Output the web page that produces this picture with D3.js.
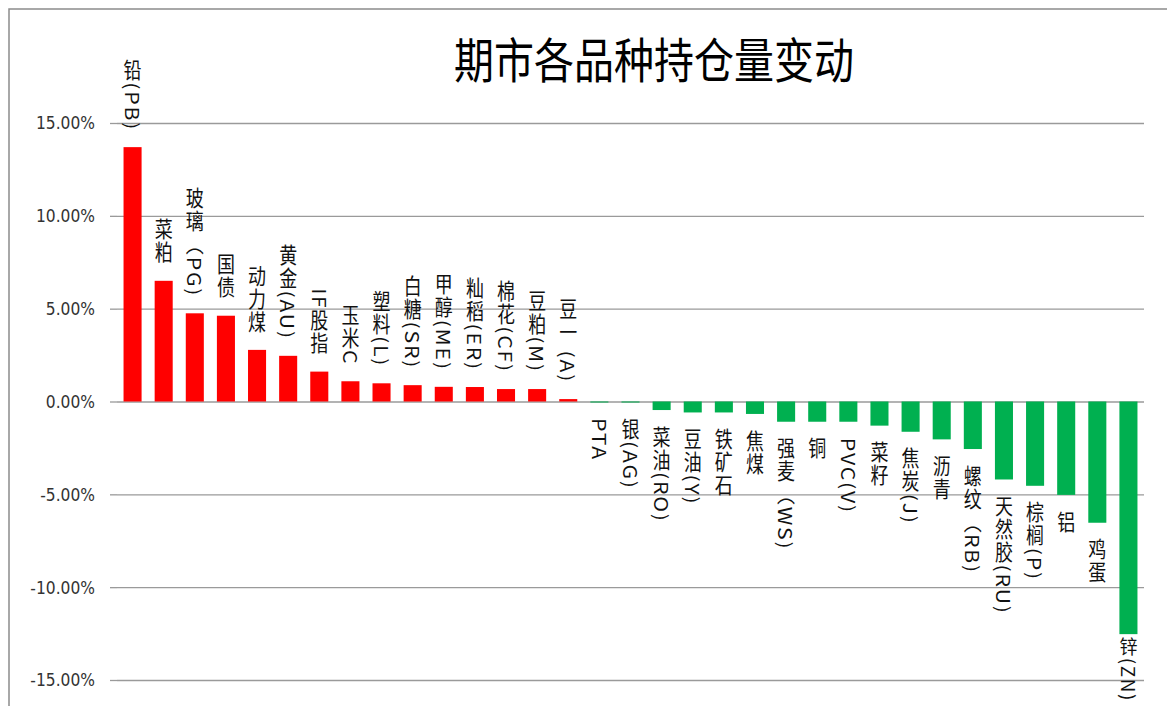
<!DOCTYPE html>
<html>
<head>
<meta charset="utf-8">
<script src="https://cdn.jsdelivr.net/npm/d3@7"></script>
<style>
body { margin: 0; background: #fff; }
svg { display: block; }
</style>
</head>
<body>
<div id="chart"></div>
<script>
const title = "期市各品种持仓量变动";

const categories = [
  "铅(PB)", "菜粕", "玻璃（PG)", "国债", "动力煤", "黄金(AU)", "IF股指", "玉米C",
  "塑料(L)", "白糖(SR)", "甲醇(ME)", "籼稻(ER)", "棉花(CF)", "豆粕(M)", "豆一 (A)",
  "PTA", "银(AG)", "菜油(RO)", "豆油(Y)", "铁矿石", "焦煤", "强麦（WS)", "铜",
  "PVC(V)", "菜籽", "焦炭(J)", "沥青", "螺纹（RB)", "天然胶(RU)", "棕榈(P)", "铝",
  "鸡蛋", "锌(ZN)"
];

// 持仓量变动, percent
const changes = [
  13.7, 6.5, 4.75, 4.62, 2.78, 2.46, 1.61, 1.09,
  0.98, 0.88, 0.79, 0.78, 0.67, 0.67, 0.13,
  -0.03, -0.03, -0.46, -0.59, -0.59, -0.67, -1.09, -1.09,
  -1.09, -1.30, -1.63, -2.04, -2.56, -4.20, -4.54, -5.03,
  -6.53, -12.53
];

const yTicks = [15, 10, 5, 0, -5, -10, -15];

const width = 1167, height = 706;
const stretch = 1.18; // the original picture is a bit taller than wide

const svg = d3.select("#chart")
  .append("svg")
  .attr("width", width)
  .attr("height", height);

// outer frame (left + top)
svg.append("path")
  .attr("d", "M9," + height + "V9H" + width)
  .attr("fill", "none")
  .attr("stroke", "#8c8c8c")
  .attr("stroke-width", 1.5);

// scales
const x = d3.scaleBand()
  .domain(categories)
  .range([117, 1144])
  .paddingInner(0.42)
  .paddingOuter(0.21);

const y = d3.scaleLinear()
  .domain([-15, 15])
  .range([680, 123]);

const fmt = d3.formatLocale({decimal: ".", thousands: ",", grouping: [3], currency: ["", ""], minus: "-"})
  .format(".2f");

// gridlines
svg.append("g")
  .attr("transform", "translate(117,0)")
  .call(d3.axisLeft(y).tickValues(yTicks).tickSize(-(1144 - 117)).tickFormat(""))
  .call(g => g.select(".domain").remove())
  .call(g => g.selectAll("line").attr("stroke", "#9a9a9a").attr("stroke-width", 1.3));

// y axis labels + small outer ticks
svg.append("g")
  .attr("transform", "translate(117,0)")
  .call(d3.axisLeft(y).tickValues(yTicks).tickSize(7).tickPadding(15)
    .tickFormat(d => fmt(d) + "%"))
  .call(g => g.select(".domain").remove())
  .call(g => g.selectAll("line").attr("stroke", "#9a9a9a").attr("stroke-width", 1.3))
  .call(g => g.selectAll("text")
    .attr("font-family", "'DejaVu Sans', Verdana, sans-serif")
    .attr("font-size", 15.5)
    .attr("fill", "#333")
    .attr("transform", "scale(1," + stretch + ")"));

// bars
svg.append("g")
  .selectAll("rect")
  .data(changes)
  .enter()
  .append("rect")
  .attr("x", (d, i) => x(categories[i]))
  .attr("width", x.bandwidth())
  .attr("y", d => y(Math.max(0, d)))
  .attr("height", d => Math.max(1, Math.abs(y(d) - y(0))))
  .attr("fill", d => d >= 0 ? "#ff0000" : "#00b050");

// vertical category labels at the bar ends
const labelGap = 16;
const labels = svg.append("g")
  .selectAll("g")
  .data(changes)
  .enter()
  .append("g");

labels.append("text")
  .attr("writing-mode", "vertical-rl")
  .attr("font-family", "'Noto Sans CJK SC', sans-serif")
  .attr("font-size", 18)
  .attr("letter-spacing", 1.5)
  .attr("fill", "#111")
  .attr("text-anchor", d => d >= 0 ? "end" : "start")
  .text((d, i) => categories[i]);

labels.attr("transform", function(d, i) {
  const raw = this.querySelector("text").getComputedTextLength();
  const cx = x(categories[i]) + x.bandwidth() / 2;
  let sy = stretch, ty;
  if (d >= 0) {
    ty = Math.max(y(d) - labelGap, raw * sy + 4);
  } else {
    // keep inside the picture, squeeze a little if there is no room
    const top = y(d) + 3, room = height - 4 - top;
    if (raw * sy > room) sy = room / raw;
    ty = Math.max(top, Math.min(y(d) + labelGap, height - 4 - raw * sy));
  }
  return "translate(" + cx + "," + ty + ") scale(1," + sy + ")";
});

// title
svg.append("text")
  .attr("transform", "translate(654,78) scale(1," + stretch + ")")
  .attr("text-anchor", "middle")
  .attr("font-family", "'Noto Sans CJK SC', sans-serif")
  .attr("font-size", 40)
  .attr("fill", "#000")
  .text(title);
</script>
</body>
</html>
